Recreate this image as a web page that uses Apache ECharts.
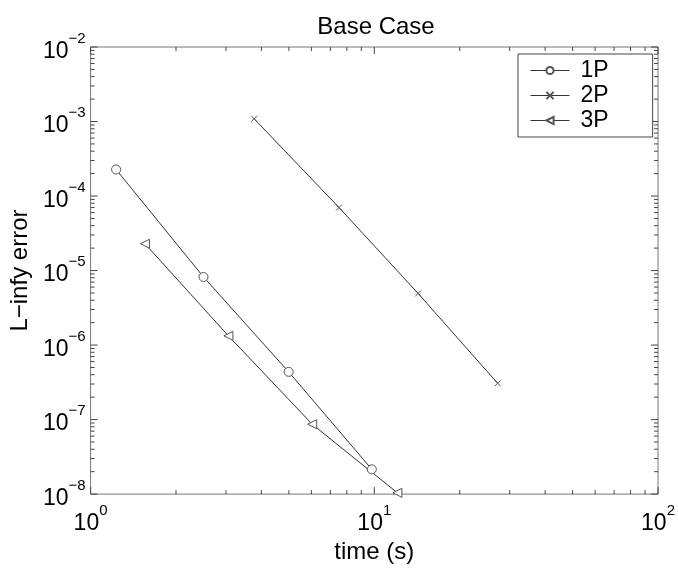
<!DOCTYPE html>
<html>
<head>
<meta charset="utf-8">
<script src="https://cdn.jsdelivr.net/npm/echarts@6/dist/echarts.min.js"></script>
<style>
html, body { margin: 0; padding: 0; background: #fff; }
#main { width: 678px; height: 569px; }
</style>
</head>
<body>
<div id="main"></div>
<script>
// 数据
var x1P = [1.23, 2.50, 4.99, 9.8];
var y1P = [2.27e-4, 8.2e-6, 4.37e-7, 2.15e-8];
var x2P = [3.77, 7.51, 14.27, 27.2];
var y2P = [1.09e-3, 7.0e-5, 4.93e-6, 3.07e-7];
var x3P = [1.555, 3.06, 6.04, 12.06];
var y3P = [2.29e-5, 1.33e-6, 8.67e-8, 1.04e-8];
var seriesNames = ['1P', '2P', '3P'];

// 轴范围 / 刻度
var xMin = 1, xMax = 100;
var yMin = 1e-8, yMax = 1e-2;
var xDecades = [0, 1];
var yDecades = [-8, -7, -6, -5, -4, -3];
var minorMults = [2, 3, 4, 5, 6, 7, 8, 9];

var FONT = 'Liberation Sans, Arial, Helvetica, sans-serif';
var lineColor = '#333';
var markColor = '#555';
var frameColor = '#777';

var pairs = function(xs, ys) {
	return xs.map(function(x, i) { return [x, ys[i]]; });
};

var supLabel = function(v) {
	var e = Math.round(Math.log(v) / Math.LN10);
	return '{b|10}{s|' + (e < 0 ? '\u2212' + (-e) : e) + '}';
};
var supRich = {
	b: { fontSize: 23, fontFamily: FONT, color: '#000', lineHeight: 32, verticalAlign: 'bottom' },
	s: { fontSize: 15, fontFamily: FONT, color: '#000', lineHeight: 32, verticalAlign: 'top' }
};

// 刻度列表 (主/次)
var xTicks = [], yTicks = [];
xDecades.forEach(function(d) {
	var b = Math.pow(10, d);
	xTicks.push([b, 1]);
	minorMults.forEach(function(m) { xTicks.push([b * m, 0]); });
});
xTicks.push([xMax, 1]);
yDecades.forEach(function(d) {
	var b = Math.pow(10, d);
	yTicks.push([b, 1]);
	minorMults.forEach(function(m) { yTicks.push([b * m, 0]); });
});
yTicks.push([yMax, 1]);

var tickRender = function(isX) {
	return function(params, api) {
		var v = api.value(0), major = api.value(1);
		var len = major ? 7 : 4;
		var a, b;
		if (isX) {
			a = api.coord([v, yMin]); b = api.coord([v, yMax]);
			return { type: 'group', children: [
				{ type: 'line', shape: { x1: a[0], y1: a[1], x2: a[0], y2: a[1] - len }, style: { stroke: '#444', lineWidth: 1 } },
				{ type: 'line', shape: { x1: b[0], y1: b[1], x2: b[0], y2: b[1] + len }, style: { stroke: '#444', lineWidth: 1 } }
			] };
		}
		a = api.coord([xMin, v]); b = api.coord([xMax, v]);
		return { type: 'group', children: [
			{ type: 'line', shape: { x1: a[0], y1: a[1], x2: a[0] + len, y2: a[1] }, style: { stroke: '#444', lineWidth: 1 } },
			{ type: 'line', shape: { x1: b[0], y1: b[1], x2: b[0] - len, y2: b[1] }, style: { stroke: '#444', lineWidth: 1 } }
		] };
	};
};

var lineSeries = function(name, data, symbol, size, rotate) {
	return {
		name: name,
		type: 'line',
		data: data,
		symbol: symbol,
		symbolSize: size,
		symbolRotate: rotate || 0,
		showSymbol: true,
		lineStyle: { color: lineColor, width: 1 },
		itemStyle: { color: '#fff', borderColor: markColor, borderWidth: 1 },
		emphasis: { disabled: true },
		z: 3
	};
};

var chart = echarts.init(document.getElementById('main'), null, { renderer: 'canvas' });
var option = {
	animation: false,
	backgroundColor: '#fff',
	textStyle: { fontFamily: FONT },
	title: {
		text: 'Base Case',
		left: 371,
		top: 10,
		textAlign: 'center',
		textStyle: { fontSize: 24, fontWeight: 'normal', fontFamily: FONT, color: '#000' }
	},
	grid: {
		left: 83, right: 18, top: 47, bottom: 66,
		show: true, borderColor: frameColor, borderWidth: 1, backgroundColor: '#fff'
	},
	legend: {
		orient: 'vertical',
		left: 518, top: 54,
		padding: [4, 44, 4, 12],
		itemGap: 0,
		itemWidth: 39,
		itemHeight: 9,
		backgroundColor: '#fff',
		borderColor: '#444',
		borderWidth: 1,
		borderRadius: 0,
		lineStyle: { width: 1 },
		textStyle: { fontSize: 23, lineHeight: 25, fontFamily: FONT, color: '#000', padding: [0, 0, 0, 6] },
		data: seriesNames
	},
	xAxis: {
		type: 'log',
		logBase: 10,
		min: xMin, max: xMax,
		name: 'time (s)',
		nameLocation: 'middle',
		nameGap: 39,
		nameTextStyle: { fontSize: 24, fontFamily: FONT, color: '#000' },
		axisLine: { show: false },
		axisTick: { show: false },
		splitLine: { show: false },
		axisLabel: { margin: 9, formatter: supLabel, rich: supRich }
	},
	yAxis: {
		type: 'log',
		logBase: 10,
		min: yMin, max: yMax,
		name: 'L\u2212infy error',
		nameLocation: 'middle',
		nameGap: 50,
		nameTextStyle: { fontSize: 24, fontFamily: FONT, color: '#000' },
		axisLine: { show: false },
		axisTick: { show: false },
		splitLine: { show: false },
		axisLabel: { margin: 5, formatter: supLabel, rich: supRich }
	},
	series: [
		lineSeries('1P', pairs(x1P, y1P), 'circle', 9),
		lineSeries('2P', pairs(x2P, y2P), 'path://M0,0L10,10M10,0L0,10', 6),
		lineSeries('3P', pairs(x3P, y3P), 'triangle', 9, 90),
		{
			type: 'custom', data: xTicks, renderItem: tickRender(true),
			silent: true, z: 2, encode: { x: 0, y: -1 }
		},
		{
			type: 'custom', data: yTicks, renderItem: tickRender(false),
			silent: true, z: 2, encode: { x: -1, y: 0 }
		}
	]
};
chart.setOption(option);
</script>
</body>
</html>
